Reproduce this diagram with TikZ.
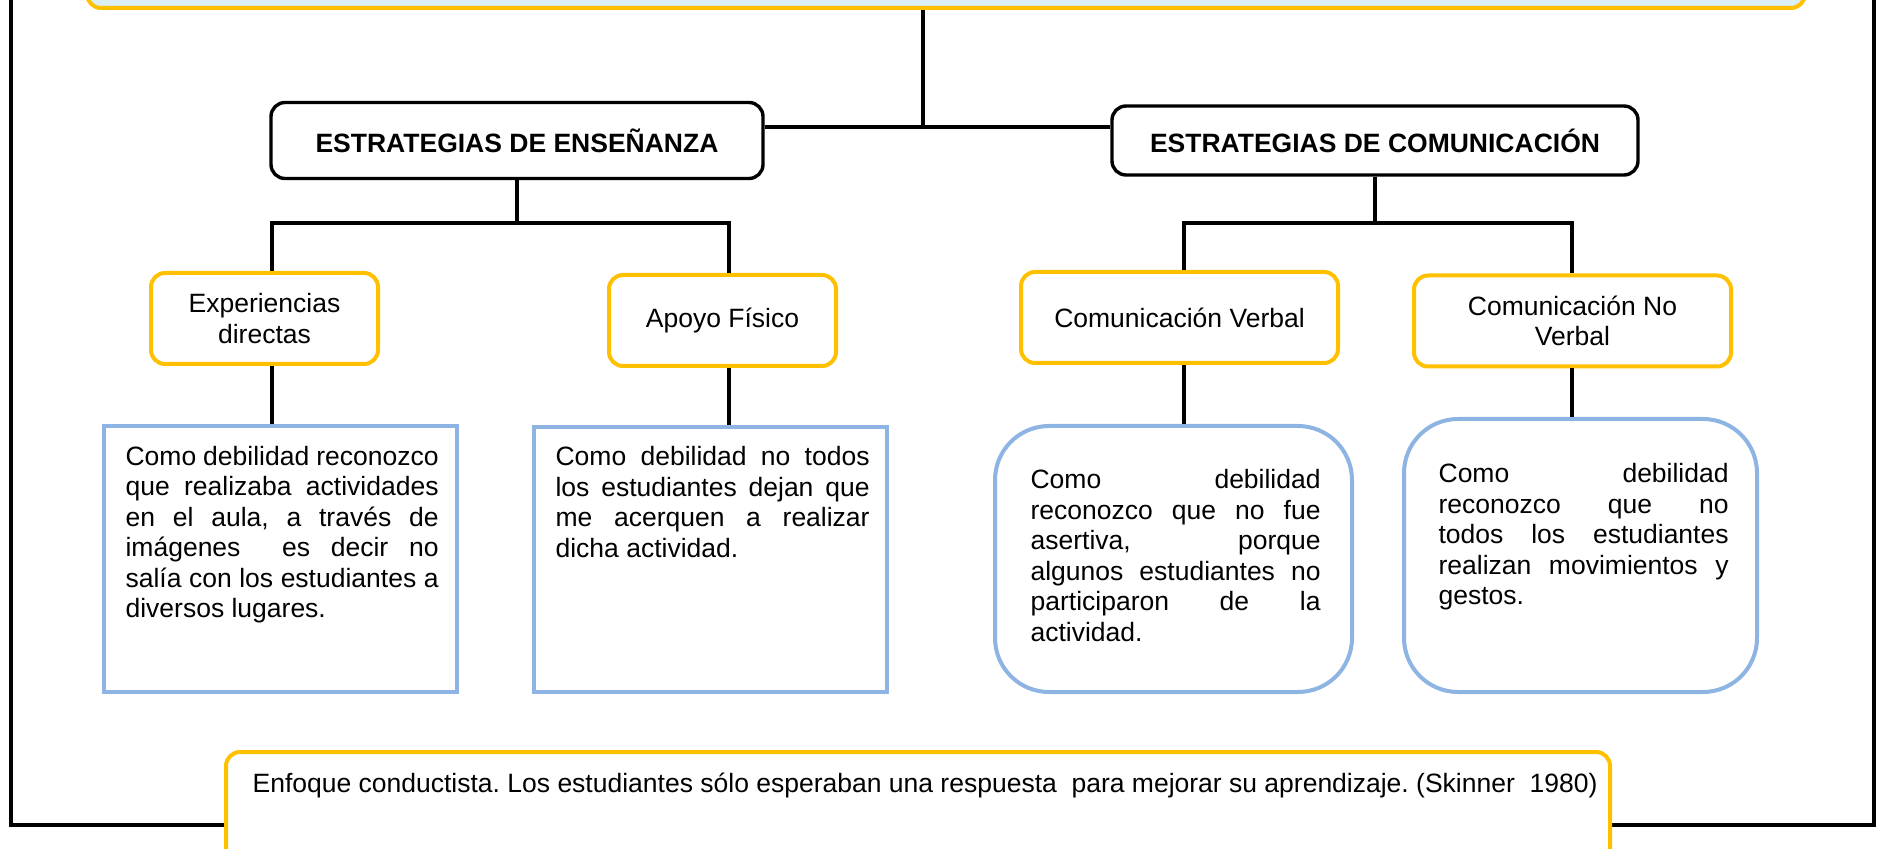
\documentclass[tikz,border=0pt]{standalone}
\usepackage{fontspec}
\setmainfont{Liberation Sans}
\usetikzlibrary{positioning}
\definecolor{gold}{HTML}{FFC000}
\definecolor{weakblue}{HTML}{8EB4E3}
\definecolor{titlefill}{HTML}{DAEEF3}
\frenchspacing

\begin{document}
\begin{tikzpicture}[x=0.5pt, y=-0.5pt, line width=1.6pt,
    font=\fontsize{13.25}{15.25}\selectfont]
  \tikzstyle{strategy} = [draw, line width=1.7pt, rounded corners=7pt, font=\fontsize{13.25}{15.25}\selectfont\bfseries]
  \tikzstyle{option} = [draw=gold, line width=2pt, rounded corners=7pt, fill=white, align=center, minimum height=45.5pt]
  \tikzstyle{weakness} = [draw=weakblue, line width=2pt, fill=white]
  \tikzstyle{remark} = [inner sep=0pt, align=justify, anchor=north west,
    execute at begin node={\tolerance=10000\hbadness=10000}]

  \useasboundingbox (0,0) rectangle (1879,849);
  \clip (0,0) rectangle (1879,849);

  \draw[line width=1.8pt] (11,-20) -- (11,825) -- (1874,825) -- (1874,-20);

  \node (title) [draw=gold, fill=titlefill, line width=2pt, rounded corners=7pt,
    minimum width=859pt, minimum height=50pt] at (946,-42) {};

  \node (ese) [strategy, minimum width=246pt, minimum height=38pt] at (517,140.5) {ESTRATEGIAS DE ENSEÑANZA};
  \node (esc) [strategy, minimum width=263pt, minimum height=34.5pt] at (1375,140.5) {ESTRATEGIAS DE COMUNICACIÓN};

  \node (exper) [option, minimum width=113.5pt] at (264.5,318.5) {Experiencias\\directas};
  \node (apoyo) [option, minimum width=113.5pt] at (722.5,320.5) {Apoyo Físico};
  \node (verbal) [option, minimum width=158.5pt] at (1179.5,317.5) {Comunicación Verbal};
  \node (noverbal) [option, minimum width=158.5pt] at (1572.5,321) {Comunicación No\\Verbal};

  \node (weakA) [weakness, minimum width=176.5pt, minimum height=132.5pt] at (280.5,559) {};
  \node (weakB) [weakness, minimum width=176.5pt, minimum height=132.5pt] at (710.5,559.5) {};
  \node (weakC) [weakness, rounded corners=27pt, minimum width=178.5pt, minimum height=133pt] at (1173.5,559) {};
  \node (weakD) [weakness, rounded corners=27pt, minimum width=176.5pt, minimum height=136.5pt] at (1580.5,555.5) {};

  \node (textA) [remark, text width=156.5pt, below right=10pt and 11pt of weakA.north west]
    {Como debilidad reconozco\linebreak que realizaba actividades\linebreak en el aula, a través de\linebreak
     imágenes~ es decir no\linebreak salía con los estudiantes a\linebreak diversos lugares.};
  \node (textB) [remark, text width=157pt, below right=10pt and 11pt of weakB.north west]
    {Como debilidad no todos\linebreak los estudiantes dejan que\linebreak me acerquen a realizar\linebreak dicha actividad.};
  \node (textC) [remark, text width=145pt, below right=22pt and 18pt of weakC.north west]
    {Como debilidad\linebreak reconozco que no fue\linebreak asertiva, porque\linebreak algunos estudiantes no\linebreak
     participaron de la\linebreak actividad.};
  \node (textD) [remark, text width=145pt, below right=22.5pt and 17.5pt of weakD.north west]
    {Como debilidad\linebreak reconozco que no\linebreak todos los estudiantes\linebreak realizan movimientos y\linebreak gestos.};

  \node (note) [draw=gold, line width=2pt, rounded corners=7pt, fill=white,
    minimum width=692pt, minimum height=74pt] at (918,826) {};
  \node (notetext) [anchor=base west, inner sep=0pt] at ([shift={(13.5pt,-21pt)}]note.north west)
    {Enfoque conductista. Los estudiantes sólo esperaban una respuesta~ para mejorar su aprendizaje. (Skinner~ 1980)};

  \coordinate (hub) at (923,127);
  \draw (title.south -| hub) -- (hub);
  \draw[line width=2pt] (ese.east |- hub) -- (esc.west |- hub);

  \coordinate (eseL) at (272,223);
  \coordinate (eseR) at (729,223);
  \draw (ese.south) -- (ese.south |- eseL);
  \draw (exper.north -| eseL) -- (eseL) -- (eseR) -- (apoyo.north -| eseR);
  \draw (exper.south -| eseL) -- (weakA.north -| eseL);
  \draw (apoyo.south -| eseR) -- (weakB.north -| eseR);

  \coordinate (escL) at (1184,223);
  \coordinate (escR) at (1572,223);
  \draw (esc.south) -- (esc.south |- escL);
  \draw (verbal.north -| escL) -- (escL) -- (escR) -- (noverbal.north -| escR);
  \draw (verbal.south -| escL) -- (weakC.north -| escL);
  \draw (noverbal.south -| escR) -- (weakD.north -| escR);
\end{tikzpicture}
\end{document}
